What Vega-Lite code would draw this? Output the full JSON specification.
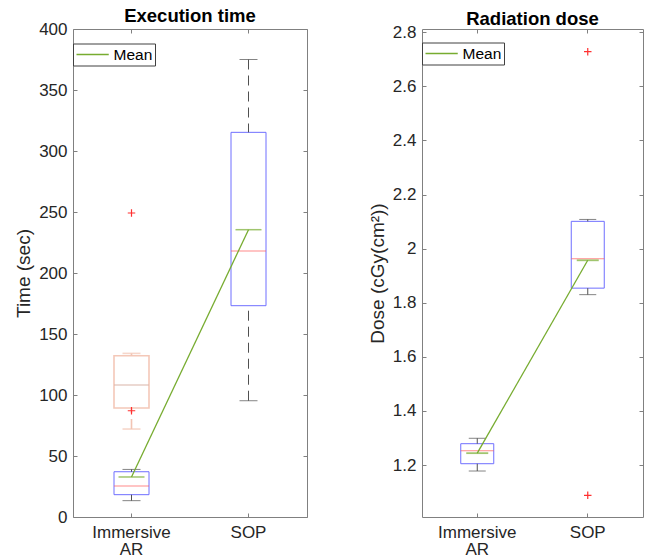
{
  "$schema": "https://vega.github.io/schema/vega-lite/v6.json",
  "background": "white",
  "padding": {"left": 14, "top": 6, "right": 5, "bottom": 0},
  "config": {
    "font": "Liberation Sans",
    "view": {"stroke": "#808080", "strokeWidth": 1},
    "axis": {"domain": false, "grid": false, "tickColor": "#808080", "tickSize": -4, "labelColor": "#262626", "titleColor": "#262626", "labelFontSize": 17, "titleFontSize": 19, "titleFontWeight": "normal"},
    "title": {"fontSize": 18.5, "fontWeight": "bold", "color": "black", "frame": "group", "offset": -5.5}
  },
  "datasets": {
    "timeBox": [
      {"cat": "Immersive AR", "set": "main", "lo": 13.4, "q1": 18.3, "med": 25.4, "q3": 37.1, "hi": 39.0},
      {"cat": "SOP", "set": "main", "lo": 95.3, "q1": 173.2, "med": 218.0, "q3": 315.3, "hi": 375.0},
      {"cat": "Immersive AR", "set": "faded", "lo": 72.1, "q1": 89.3, "med": 108.2, "q3": 132.2, "hi": 134.1}
    ],
    "timeMean": [
      {"cat": "Immersive AR", "mean": 32.8},
      {"cat": "SOP", "mean": 235.5}
    ],
    "timeOut": [
      {"cat": "Immersive AR", "value": 249.2},
      {"cat": "Immersive AR", "value": 87.1}
    ],
    "doseBox": [
      {"cat": "Immersive AR", "set": "main", "lo": 1.178, "q1": 1.205, "med": 1.253, "q3": 1.279, "hi": 1.299},
      {"cat": "SOP", "set": "main", "lo": 1.830, "q1": 1.854, "med": 1.963, "q3": 2.101, "hi": 2.108}
    ],
    "doseMean": [
      {"cat": "Immersive AR", "mean": 1.244},
      {"cat": "SOP", "mean": 1.957}
    ],
    "doseOut": [
      {"cat": "SOP", "value": 2.728},
      {"cat": "SOP", "value": 1.088}
    ]
  },
  "resolve": {"scale": {"color": "independent"}, "legend": {"color": "independent"}},
  "spacing": 59,
  "hconcat": [
    {
      "width": 234,
      "height": 488,
      "title": {"text": "Execution time"},
      "resolve": {"axis": {"x": "independent", "y": "independent"}},
      "encoding": {
        "x": {"field": "cat", "type": "nominal", "scale": {"type": "band", "domain": ["Immersive AR", "SOP"], "paddingInner": 0, "paddingOuter": 0}, "axis": null}
      },
      "layer": [
        {
          "data": {"name": "timeBox"},
          "transform": [{"filter": "datum.set == 'main'"}],
          "mark": {"type": "bar", "size": 35, "fill": "transparent", "stroke": "#6f6fff", "strokeWidth": 1},
          "encoding": {
            "x": {"field": "cat", "type": "nominal", "scale": {"type": "band", "domain": ["Immersive AR", "SOP"], "paddingInner": 0, "paddingOuter": 0},
              "axis": {"orient": "bottom", "title": null, "labelAngle": 0, "labelPadding": 11, "labelLineHeight": 17.5, "labelBaseline": "top",
                "labelExpr": "datum.value == 'Immersive AR' ? ['Immersive', 'AR'] : datum.label"}},
            "y": {"field": "q1", "type": "quantitative", "scale": {"domain": [0, 400], "nice": false, "zero": false},
              "axis": {"orient": "left", "title": "Time (sec)", "values": [0, 50, 100, 150, 200, 250, 300, 350, 400], "labelPadding": 10, "titlePadding": 5}},
            "y2": {"field": "q3"}
          }
        },
        {
          "data": {"name": "timeBox"},
          "transform": [{"filter": "datum.set == 'faded'"}],
          "mark": {"type": "bar", "size": 35, "fill": "transparent", "stroke": "#f4c8b8", "strokeWidth": 1.6},
          "encoding": {
            "x": {"field": "cat", "type": "nominal", "scale": {"type": "band", "domain": ["Immersive AR", "SOP"], "paddingInner": 0, "paddingOuter": 0},
              "axis": {"orient": "top", "title": null, "labels": false}},
            "y": {"field": "q1", "type": "quantitative", "scale": {"domain": [0, 400], "nice": false, "zero": false},
              "axis": {"orient": "right", "title": null, "labels": false, "values": [0, 50, 100, 150, 200, 250, 300, 350, 400]}},
            "y2": {"field": "q3"}
          }
        },
        {
          "data": {"name": "timeBox"},
          "transform": [{"filter": "datum.set == 'main'"}],
          "mark": {"type": "rule", "color": "#505050", "strokeWidth": 1, "strokeDash": [10, 6]},
          "encoding": {
            "y": {"field": "hi", "type": "quantitative", "scale": {"domain": [0, 400], "nice": false, "zero": false}, "axis": null},
            "y2": {"field": "q3"}
          }
        },
        {
          "data": {"name": "timeBox"},
          "transform": [{"filter": "datum.set == 'main'"}],
          "mark": {"type": "rule", "color": "#505050", "strokeWidth": 1, "strokeDash": [10, 6]},
          "encoding": {
            "y": {"field": "lo", "type": "quantitative", "scale": {"domain": [0, 400], "nice": false, "zero": false}, "axis": null},
            "y2": {"field": "q1"}
          }
        },
        {
          "data": {"name": "timeBox"},
          "transform": [{"filter": "datum.set == 'faded'"}],
          "mark": {"type": "rule", "color": "#f2c4b3", "strokeWidth": 1.6, "strokeDash": [10, 6]},
          "encoding": {
            "y": {"field": "lo", "type": "quantitative", "scale": {"domain": [0, 400], "nice": false, "zero": false}, "axis": null},
            "y2": {"field": "q1"}
          }
        },
        {
          "data": {"name": "timeBox"},
          "transform": [{"filter": "datum.set == 'faded'"}],
          "mark": {"type": "rule", "color": "#f2c4b3", "strokeWidth": 1.6},
          "encoding": {
            "y": {"field": "q3", "type": "quantitative", "scale": {"domain": [0, 400], "nice": false, "zero": false}, "axis": null},
            "y2": {"field": "hi"}
          }
        },
        {
          "data": {"name": "timeBox"},
          "transform": [{"filter": "datum.set == 'main'"}, {"fold": ["lo", "hi"], "as": ["end", "v"]}],
          "mark": {"type": "tick", "color": "#505050", "size": 18, "thickness": 1},
          "encoding": {
            "y": {"field": "v", "type": "quantitative", "scale": {"domain": [0, 400], "nice": false, "zero": false}, "axis": null}
          }
        },
        {
          "data": {"name": "timeBox"},
          "transform": [{"filter": "datum.set == 'faded'"}, {"fold": ["lo", "hi"], "as": ["end", "v"]}],
          "mark": {"type": "tick", "color": "#f2c4b3", "size": 18, "thickness": 1.6},
          "encoding": {
            "y": {"field": "v", "type": "quantitative", "scale": {"domain": [0, 400], "nice": false, "zero": false}, "axis": null}
          }
        },
        {
          "data": {"name": "timeBox"},
          "transform": [{"filter": "datum.set == 'main'"}],
          "mark": {"type": "tick", "color": "#ff5a5a", "size": 35, "thickness": 1},
          "encoding": {
            "y": {"field": "med", "type": "quantitative", "scale": {"domain": [0, 400], "nice": false, "zero": false}, "axis": null}
          }
        },
        {
          "data": {"name": "timeBox"},
          "transform": [{"filter": "datum.set == 'faded'"}],
          "mark": {"type": "tick", "color": "#dcb8ad", "size": 35, "thickness": 1.6},
          "encoding": {
            "y": {"field": "med", "type": "quantitative", "scale": {"domain": [0, 400], "nice": false, "zero": false}, "axis": null}
          }
        },
        {
          "data": {"name": "timeMean"},
          "mark": {"type": "line", "strokeWidth": 1.3},
          "encoding": {
            "y": {"field": "mean", "type": "quantitative", "scale": {"domain": [0, 400], "nice": false, "zero": false}, "axis": null},
            "color": {"datum": "Mean", "type": "nominal", "scale": {"domain": ["Mean"], "range": ["#77ac30"]},
              "legend": {"orient": "none", "legendX": 0, "legendY": 14.5, "title": null, "symbolType": "M-1,0H3.3", "symbolSize": 225, "symbolStrokeWidth": 1.3, "labelFontSize": 15.5, "labelColor": "black", "strokeColor": "#404040", "fillColor": "white", "padding": 2.5, "labelOffset": 21}}
          }
        },
        {
          "data": {"name": "timeMean"},
          "mark": {"type": "tick", "color": "#77ac30", "size": 26, "thickness": 1.5},
          "encoding": {
            "y": {"field": "mean", "type": "quantitative", "scale": {"domain": [0, 400], "nice": false, "zero": false}, "axis": null}
          }
        },
        {
          "data": {"name": "timeOut"},
          "mark": {"type": "point", "shape": "M-1,0H1M0,-1V1", "size": 56, "filled": false, "stroke": "#ff3030", "strokeWidth": 1.2, "opacity": 1},
          "encoding": {
            "y": {"field": "value", "type": "quantitative", "scale": {"domain": [0, 400], "nice": false, "zero": false}, "axis": null}
          }
        }
      ]
    },
    {
      "width": 221,
      "height": 488,
      "title": {"text": "Radiation dose"},
      "resolve": {"axis": {"x": "independent", "y": "independent"}},
      "encoding": {
        "x": {"field": "cat", "type": "nominal", "scale": {"type": "band", "domain": ["Immersive AR", "SOP"], "paddingInner": 0, "paddingOuter": 0}, "axis": null}
      },
      "layer": [
        {
          "data": {"name": "doseBox"},
          "mark": {"type": "bar", "size": 33, "fill": "transparent", "stroke": "#6f6fff", "strokeWidth": 1},
          "encoding": {
            "x": {"field": "cat", "type": "nominal", "scale": {"type": "band", "domain": ["Immersive AR", "SOP"], "paddingInner": 0, "paddingOuter": 0},
              "axis": {"orient": "bottom", "title": null, "labelAngle": 0, "labelPadding": 11, "labelLineHeight": 17.5, "labelBaseline": "top",
                "labelExpr": "datum.value == 'Immersive AR' ? ['Immersive', 'AR'] : datum.label"}},
            "y": {"field": "q1", "type": "quantitative", "scale": {"domain": [1.008, 2.812], "nice": false, "zero": false},
              "axis": {"orient": "left", "title": "Dose (cGy(cm²))", "values": [1.2, 1.4, 1.6, 1.8, 2, 2.2, 2.4, 2.6, 2.8], "format": "~g", "labelPadding": 10, "titlePadding": 5}},
            "y2": {"field": "q3"}
          }
        },
        {
          "data": {"name": "doseBox"},
          "mark": {"type": "rule", "color": "#505050", "strokeWidth": 1, "strokeDash": [10, 6]},
          "encoding": {
            "x": {"field": "cat", "type": "nominal", "scale": {"type": "band", "domain": ["Immersive AR", "SOP"], "paddingInner": 0, "paddingOuter": 0},
              "axis": {"orient": "top", "title": null, "labels": false}},
            "y": {"field": "hi", "type": "quantitative", "scale": {"domain": [1.008, 2.812], "nice": false, "zero": false},
              "axis": {"orient": "right", "title": null, "labels": false, "values": [1.2, 1.4, 1.6, 1.8, 2, 2.2, 2.4, 2.6, 2.8]}},
            "y2": {"field": "q3"}
          }
        },
        {
          "data": {"name": "doseBox"},
          "mark": {"type": "rule", "color": "#505050", "strokeWidth": 1, "strokeDash": [10, 6]},
          "encoding": {
            "y": {"field": "lo", "type": "quantitative", "scale": {"domain": [1.008, 2.812], "nice": false, "zero": false}, "axis": null},
            "y2": {"field": "q1"}
          }
        },
        {
          "data": {"name": "doseBox"},
          "transform": [{"fold": ["lo", "hi"], "as": ["end", "v"]}],
          "mark": {"type": "tick", "color": "#505050", "size": 17, "thickness": 1},
          "encoding": {
            "y": {"field": "v", "type": "quantitative", "scale": {"domain": [1.008, 2.812], "nice": false, "zero": false}, "axis": null}
          }
        },
        {
          "data": {"name": "doseBox"},
          "mark": {"type": "tick", "color": "#ff5a5a", "size": 33, "thickness": 1},
          "encoding": {
            "y": {"field": "med", "type": "quantitative", "scale": {"domain": [1.008, 2.812], "nice": false, "zero": false}, "axis": null}
          }
        },
        {
          "data": {"name": "doseMean"},
          "mark": {"type": "line", "strokeWidth": 1.3},
          "encoding": {
            "y": {"field": "mean", "type": "quantitative", "scale": {"domain": [1.008, 2.812], "nice": false, "zero": false}, "axis": null},
            "color": {"datum": "Mean", "type": "nominal", "scale": {"domain": ["Mean"], "range": ["#77ac30"]},
              "legend": {"orient": "none", "legendX": 0, "legendY": 13.5, "title": null, "symbolType": "M-1,0H3.3", "symbolSize": 225, "symbolStrokeWidth": 1.3, "labelFontSize": 15.5, "labelColor": "black", "strokeColor": "#404040", "fillColor": "white", "padding": 2.5, "labelOffset": 21}}
          }
        },
        {
          "data": {"name": "doseMean"},
          "mark": {"type": "tick", "color": "#77ac30", "size": 22, "thickness": 1.8},
          "encoding": {
            "y": {"field": "mean", "type": "quantitative", "scale": {"domain": [1.008, 2.812], "nice": false, "zero": false}, "axis": null}
          }
        },
        {
          "data": {"name": "doseOut"},
          "mark": {"type": "point", "shape": "M-1,0H1M0,-1V1", "size": 56, "filled": false, "stroke": "#ff3030", "strokeWidth": 1.2, "opacity": 1},
          "encoding": {
            "y": {"field": "value", "type": "quantitative", "scale": {"domain": [1.008, 2.812], "nice": false, "zero": false}, "axis": null}
          }
        }
      ]
    }
  ]
}
